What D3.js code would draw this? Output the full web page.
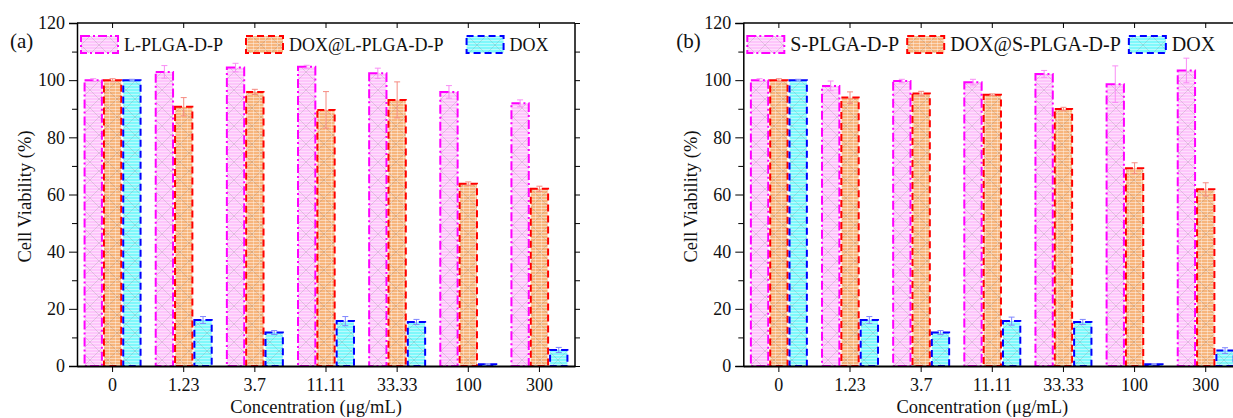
<!DOCTYPE html>
<html>
<head>
<meta charset="utf-8">
<script src="https://cdn.jsdelivr.net/npm/d3@7"></script>
<style>
  html, body { margin: 0; padding: 0; background: #fff; }
  svg { display: block; font-family: "Liberation Serif", "DejaVu Serif", serif; }
</style>
</head>
<body>
<svg id="chart" width="1233" height="418"></svg>
<script>
// Concentration groups (µg/mL)
const categories = ["0", "1.23", "3.7", "11.11", "33.33", "100", "300"];
const yTicks = [0, 20, 40, 60, 80, 100, 120];

// Panel (a)
const seriesA = ["L-PLGA-D-P", "DOX@L-PLGA-D-P", "DOX"];
const lPlga = [100, 102.9, 104.4, 104.7, 102.4, 95.9, 91.9];
const lPlgaErr = [0.5, 2.2, 1.5, 0.5, 1.8, 2.2, 1.2];
const doxL = [100, 90.7, 95.9, 89.6, 93.1, 63.8, 62];
const doxLErr = [0.5, 3.2, 0.9, 6.4, 6.3, 0.6, 0.9];
const doxA = [100, 16.1, 11.7, 15.7, 15.4, 0.6, 5.6];
const doxAErr = [0.3, 1.2, 0.7, 1.6, 0.9, 0.2, 0.9];

// Panel (b)
const seriesB = ["S-PLGA-D-P", "DOX@S-PLGA-D-P", "DOX"];
const sPlga = [100, 98.0, 99.7, 99.3, 102.2, 98.6, 103.4];
const sPlgaErr = [0.5, 1.7, 0.6, 1.0, 1.2, 6.4, 4.3];
const doxS = [100, 93.9, 95.3, 94.9, 89.9, 69.2, 61.8];
const doxSErr = [0.5, 2.0, 0.8, 0.3, 0.6, 1.9, 2.3];
const doxB = [100, 16.1, 11.7, 15.7, 15.4, 0.6, 5.4];
const doxBErr = [0.3, 1.2, 0.7, 1.4, 0.9, 0.2, 1.0];

// one style per series slot (pink / orange / cyan)
const S = [
  { fill: "#fdc6fb", stroke: "#ff00ff", dash: "9,3,2,3", err: "#f98cf5", pat: "pPink" },
  { fill: "#f7b57c", stroke: "#ff0000", dash: "7,4", err: "#f58a80", pat: "pOrange" },
  { fill: "#7ff8fb", stroke: "#0000ff", dash: "7,4", err: "#7f86ff", pat: "pCyan" }
];

const svg = d3.select("#chart");
const defs = svg.append("defs");

// hatched fills: base colour + thin light horizontal lines + faint diagonal cross
S.forEach(s => {
  const p = defs.append("pattern").attr("id", s.pat)
    .attr("patternUnits", "userSpaceOnUse").attr("width", 18).attr("height", 18);
  p.append("rect").attr("width", 18).attr("height", 18).attr("fill", s.fill);
  for (let yy = 1; yy < 18; yy += 3) {
    p.append("line").attr("x1", 0).attr("x2", 18).attr("y1", yy + 0.5).attr("y2", yy + 0.5)
      .attr("stroke", "#fff").attr("stroke-opacity", 0.45).attr("stroke-width", 1);
  }
  if (s.pat === "pOrange") {
    for (let xx = 1; xx < 18; xx += 6) {
      p.append("line").attr("y1", 0).attr("y2", 18).attr("x1", xx + 0.5).attr("x2", xx + 0.5)
        .attr("stroke", "#fff").attr("stroke-opacity", 0.35).attr("stroke-width", 1);
    }
  }
  p.append("path").attr("d", "M0,0L18,18M18,0L0,18")
    .attr("stroke", "#777").attr("stroke-opacity", 0.35).attr("stroke-width", 0.6).attr("fill", "none");
});

const plotTop = 23, plotBottom = 366, plotW = 498;
const y = d3.scaleLinear().domain([0, 120]).range([plotBottom, plotTop]);

function drawPanel(x0, tag, names, vals, errs, legendSize, legendGap) {
  const g = svg.append("g");
  const x = d3.scaleBand().domain(categories).range([x0, x0 + plotW])
    .paddingInner(0.185).paddingOuter(0.0925);
  const xs = d3.scaleBand().domain(d3.range(3)).range([0, x.bandwidth()]);

  // bars
  vals.forEach((arr, si) => {
    const s = S[si];
    g.selectAll(null).data(arr).enter().append("rect")
      .attr("x", (d, i) => x(categories[i]) + xs(si) + 1)
      .attr("y", d => y(d))
      .attr("width", xs.bandwidth() - 2)
      .attr("height", d => y(0) - y(d))
      .attr("fill", `url(#${s.pat})`)
      .attr("stroke", s.stroke).attr("stroke-width", 2)
      .attr("stroke-dasharray", s.dash);
  });

  // error bars
  vals.forEach((arr, si) => {
    const s = S[si];
    const eg = g.append("g").attr("stroke", s.err).attr("stroke-width", 1);
    arr.forEach((v, i) => {
      const cx = x(categories[i]) + xs(si) + xs.bandwidth() / 2;
      const e = errs[si][i];
      eg.append("line").attr("x1", cx).attr("x2", cx).attr("y1", y(v - e)).attr("y2", y(v + e));
      eg.append("line").attr("x1", cx - 3).attr("x2", cx + 3).attr("y1", y(v + e)).attr("y2", y(v + e));
      eg.append("line").attr("x1", cx - 3).attr("x2", cx + 3).attr("y1", y(v - e)).attr("y2", y(v - e));
    });
  });

  // left axis with minor ticks
  const yl = g.append("g").attr("transform", `translate(${x0},0)`)
    .call(d3.axisLeft(y).tickValues(yTicks).tickSize(8).tickPadding(4))
    .attr("font-family", null).attr("font-size", null);
  g.append("g").attr("transform", `translate(${x0},0)`)
    .call(d3.axisLeft(y).tickValues(d3.range(10, 120, 20)).tickSize(5).tickFormat(""))
    .select(".domain").remove();
  yl.select(".domain").attr("stroke-width", 1.5);
  yl.selectAll(".tick text").style("font-size", "18px").attr("fill", "#111");

  // right mirrored axis, ticks inward
  const xr = x0 + plotW;
  const yr = g.append("g").attr("transform", `translate(${xr},0)`)
    .call(d3.axisLeft(y).tickValues(d3.range(0, 121, 10)).tickSize(-5).tickFormat(""));
  yr.select(".domain").remove();
  g.append("line").attr("x1", xr).attr("x2", xr).attr("y1", plotTop).attr("y2", plotBottom)
    .attr("stroke", "#000").attr("stroke-width", 1.5);

  // top mirrored axis, ticks inward
  const xt = g.append("g").attr("transform", `translate(0,${plotTop})`)
    .call(d3.axisBottom(x).tickSize(5).tickFormat(""));
  xt.select(".domain").remove();
  g.append("line").attr("x1", x0).attr("x2", xr).attr("y1", plotTop).attr("y2", plotTop)
    .attr("stroke", "#000").attr("stroke-width", 1.5);

  // bottom axis
  const xb = g.append("g").attr("transform", `translate(0,${plotBottom})`)
    .call(d3.axisBottom(x).tickSize(6).tickPadding(6).tickSizeOuter(0))
    .attr("font-family", null).attr("font-size", null);
  xb.select(".domain").attr("stroke-width", 2.2);
  xb.selectAll(".tick text").style("font-size", "18px").attr("fill", "#111");

  // titles
  g.append("text").attr("transform", `translate(${x0 - 46},${(plotTop + plotBottom) / 2 + 2}) rotate(-90)`)
    .attr("text-anchor", "middle").style("font-size", "18.5px").attr("fill", "#111")
    .text("Cell Viability (%)");
  g.append("text").attr("x", x0 + plotW / 2 - 10).attr("y", 413)
    .attr("text-anchor", "middle").style("font-size", "18.5px").attr("fill", "#111")
    .text("Concentration (\u03bcg/mL)");
  g.append("text").attr("x", x0 - 67).attr("y", 48)
    .style("font-size", "21px").attr("fill", "#111").text(tag);

  // legend
  let lx = x0 + 4;
  names.forEach((n, si) => {
    const s = S[si];
    g.append("rect").attr("x", lx).attr("y", 36).attr("width", 37).attr("height", 17)
      .attr("fill", `url(#${s.pat})`).attr("stroke", s.stroke).attr("stroke-width", 2)
      .attr("stroke-dasharray", s.dash);
    const t = g.append("text").attr("x", lx + 43).attr("y", 51)
      .style("font-size", legendSize + "px").attr("fill", "#111").text(n);
    lx += 43 + t.node().getComputedTextLength() + legendGap;
  });
}

drawPanel(77, "(a)", seriesA, [lPlga, doxL, doxA], [lPlgaErr, doxLErr, doxAErr], 18, 23);
drawPanel(743.3, "(b)", seriesB, [sPlga, doxS, doxB], [sPlgaErr, doxSErr, doxBErr], 20, 8);
</script>
</body>
</html>
